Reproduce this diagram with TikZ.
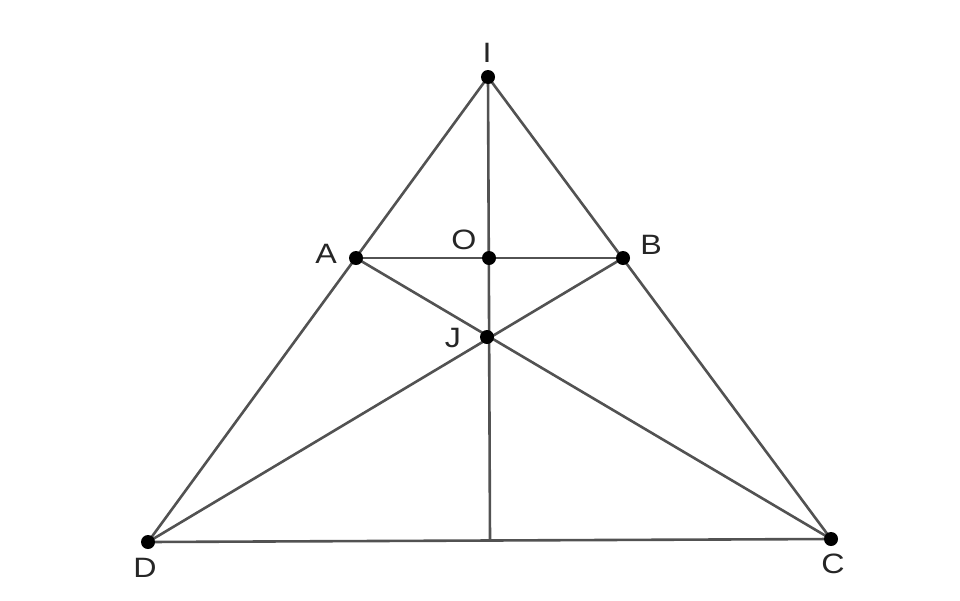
\documentclass[tikz,border=0pt]{standalone}
\usepackage{fontspec}
\setmainfont{Liberation Sans}
\begin{document}
\begin{tikzpicture}[x=1pt,y=-1pt,
  seg/.style={draw=black!68,line width=2.6pt},
  pt/.style={circle,fill=black,inner sep=0pt,minimum size=14pt},
  lbl/.style={font=\fontsize{28}{30}\selectfont,text=black!85,inner sep=0pt}]
\useasboundingbox (0,0) rectangle (960,600);
\coordinate (I) at (488,77);
\coordinate (A) at (356,258);
\coordinate (B) at (623,258);
\coordinate (O) at (489,258);
\coordinate (J) at (487,337);
\coordinate (D) at (148,542);
\coordinate (C) at (831,539);
\coordinate (M) at (490,541);
\draw[seg] (I) -- (D);
\draw[seg] (I) -- (C);
\draw[seg] (D) -- (C);
\draw[seg] (A) -- (B);
\draw[seg] (A) -- (C);
\draw[seg] (B) -- (D);
\draw[seg] (I) -- (M);
\foreach \p in {I,A,B,O,J,D,C} \node[pt] (n\p) at (\p) {};
\node[lbl] (lI) at (487,53) {\scalebox{1.15}[1]{I}};
\node[lbl] (lA) at (326,254) {\scalebox{1.15}[1]{A}};
\node[lbl] (lO) at (464,240) {\scalebox{1.15}[1]{O}};
\node[lbl] (lB) at (651,245) {\scalebox{1.15}[1]{B}};
\node[lbl] (lJ) at (453,338) {\scalebox{1.15}[1]{J}};
\node[lbl] (lD) at (145,568) {\scalebox{1.15}[1]{D}};
\node[lbl] (lC) at (833,564) {\scalebox{1.15}[1]{C}};
\end{tikzpicture}
\end{document}
